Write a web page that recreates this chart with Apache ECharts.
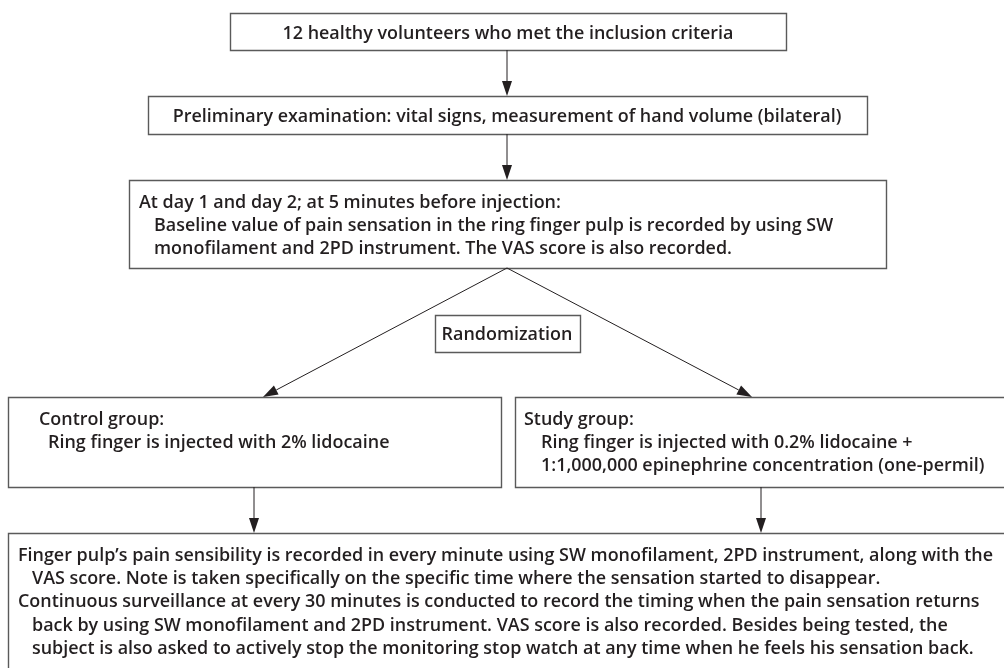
<!DOCTYPE html>
<html>
<head>
<meta charset="utf-8">
<script src="https://cdn.jsdelivr.net/npm/echarts@6/dist/echarts.min.js"></script>
<style>html,body{margin:0;padding:0;background:#fff}#c{width:1004px;height:668px}</style>
</head>
<body>
<div id="c"></div>
<script>
// ---- content ----
const step1Lines = ['12 healthy volunteers who met the inclusion criteria'];
const step2Lines = ['Preliminary examination: vital signs, measurement of hand volume (bilateral)'];
const baselineLines = [
  'At day 1 and day 2; at 5 minutes before injection:',
  'Baseline value of pain sensation in the ring finger pulp is recorded by using SW',
  'monofilament and 2PD instrument. The VAS score is also recorded.'
];
const randomLines = ['Randomization'];
const controlLines = ['Control group:', 'Ring finger is injected with 2% lidocaine'];
const studyLines = ['Study group:', 'Ring finger is injected with 0.2% lidocaine +', '1:1,000,000 epinephrine concentration (one-permil)'];
const outcomeLines = [
  'Finger pulp\u2019s pain sensibility is recorded in every minute using SW monofilament, 2PD instrument, along with the',
  'VAS score. Note is taken specifically on the specific time where the sensation started to disappear.',
  'Continuous surveillance at every 30 minutes is conducted to record the timing when the pain sensation returns',
  'back by using SW monofilament and 2PD instrument. VAS score is also recorded. Besides being tested, the',
  'subject is also asked to actively stop the monitoring stop watch at any time when he feels his sensation back.'
];

// ---- layout ----
const FAMILY = '"Open Sans"';
const SIZE = 18.5;
const FONT = '600 ' + SIZE + 'px ' + FAMILY;
// condense the glyphs horizontally so the widest line matches the reference width (975px)
const mc = document.createElement('canvas').getContext('2d');
mc.font = FONT;
const SX = 975 / mc.measureText(outcomeLines[0]).width;
const BASE = 0.285 * SIZE; // distance from 'middle' to baseline
const TEXT = '#231f20';
const BORDER = '#5a5a5a';
const g = [];
function box(x, y, w, h) {
  g.push({type:'rect', shape:{x:x+0.5, y:y+0.5, width:w, height:h}, style:{fill:'#fff', stroke:BORDER, lineWidth:1.4}, z:1});
}
function lines(arr, xs, base0, lh, align) {
  arr.forEach((t, i) => {
    const x = Array.isArray(xs) ? xs[Math.min(i, xs.length-1)] : xs;
    g.push({type:'text', z:3, x:x, y:base0 + i*lh - BASE, scaleX:SX,
      style:{text:t, x:0, y:0, font:FONT, fill:TEXT, textAlign:align||'left', textVerticalAlign:'middle'}});
  });
}
function arrow(x1, y1, x2, y2) {
  const ang = Math.atan2(y2-y1, x2-x1), L = 15, W = 5;
  const bx = x2 - L*Math.cos(ang), by = y2 - L*Math.sin(ang);
  g.push({type:'line', z:2, shape:{x1:x1, y1:y1, x2:bx, y2:by}, style:{stroke:'#231f20', lineWidth:1}});
  g.push({type:'polygon', z:2, shape:{points:[[x2,y2],[bx - W*Math.sin(ang), by + W*Math.cos(ang)],[bx + W*Math.sin(ang), by - W*Math.cos(ang)]]}, style:{fill:'#231f20'}});
}

box(230, 13, 556, 37);    lines(step1Lines, 508, 39, 23, 'center');
box(148, 96, 719, 38);    lines(step2Lines, 507, 122, 23, 'center');
box(129, 180, 757, 88);   lines(baselineLines, [139, 154], 208, 23);
box(435, 315, 145, 37);   lines(randomLines, 507, 340, 23, 'center');
box(8, 397, 493, 90);     lines(controlLines, [39, 48], 425, 23);
box(515, 397, 500, 90);   lines(studyLines, [524, 541], 425, 23);
box(8, 533, 1010, 150);   lines(outcomeLines, [18, 32, 18, 32, 32], 561, 23.2);

arrow(507, 50, 507, 96);
arrow(507, 134, 507, 180);
arrow(507, 268, 263, 397);
arrow(507, 268, 752, 397);
arrow(254, 487, 254, 533);
arrow(761, 487, 761, 533);

const chart = echarts.init(document.getElementById('c'), null, {renderer:'canvas'});
chart.setOption({animation:false, graphic:{elements:g}});
</script>
</body>
</html>
